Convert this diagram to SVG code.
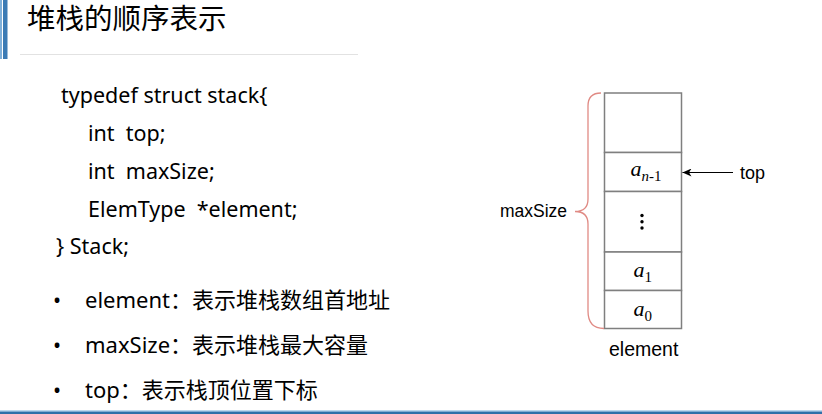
<svg xmlns="http://www.w3.org/2000/svg" width="822" height="414" viewBox="0 0 822 414">
<defs>
<style>
.t{font-family:"Noto Sans","Noto Sans CJK SC",sans-serif;font-size:21.5px;fill:#000}
.cj{font-family:"Noto Sans CJK SC",sans-serif;font-size:22px}
.lab{font-family:"Liberation Sans",Arial,sans-serif;fill:#000}
.cell{fill:#fff;stroke:#7f7f7f;stroke-width:1.5}
.m{font-family:"Liberation Serif","Times New Roman",serif;font-style:italic;font-size:22px;fill:#000}
.s{font-family:"Liberation Serif","Times New Roman",serif;font-style:normal;font-size:15px;fill:#000}
</style>
<marker id="ah" markerWidth="10" markerHeight="8" refX="9" refY="4" orient="auto" markerUnits="userSpaceOnUse">
<path d="M0,0 L9,4 L0,8 L2.5,4 Z" fill="#000"/>
</marker>
</defs>
<rect width="822" height="414" fill="#fff"/>
<g id="frame">
<rect x="0" y="0" width="2" height="59" fill="#7fb0da"/>
<rect x="3" y="0" width="4.5" height="59" fill="#3b7bb5"/>
<line x1="20" y1="54.5" x2="358" y2="54.5" stroke="#e2e2e2" stroke-width="1.2"/>
<rect x="0" y="410.5" width="822" height="1.2" fill="#7fb0da"/>
<rect x="0" y="411.7" width="822" height="2.3" fill="#2f6fa8"/>
</g>
<text id="title" x="27" y="28.5" style="font-family:'Liberation Sans','Noto Sans CJK SC',sans-serif;font-size:28.5px;fill:#000">堆栈的顺序表示</text>
<g id="code">
<text class="t" x="61" y="103">typedef struct stack{</text>
<text class="t" x="88" y="141" xml:space="preserve">int  top;</text>
<text class="t" x="88" y="179" xml:space="preserve">int  maxSize;</text>
<text class="t" x="88" y="217" xml:space="preserve">ElemType  *element;</text>
<text class="t" x="56" y="254">} Stack;</text>
</g>
<g id="bullets">
<text class="t" x="53" y="308">•</text>
<text class="t" x="85" y="308" style="font-size:22px">element<tspan class="cj">：表示堆栈数组首地址</tspan></text>
<text class="t" x="53" y="353">•</text>
<text class="t" x="85" y="353" style="font-size:22px">maxSize<tspan class="cj">：表示堆栈最大容量</tspan></text>
<text class="t" x="53" y="398">•</text>
<text class="t" x="85" y="398" style="font-size:22px">top<tspan class="cj">：表示栈顶位置下标</tspan></text>
</g>
<g id="stack">
<rect class="cell" x="604.5" y="93" width="77" height="59.5"/>
<rect class="cell" x="604.5" y="152.5" width="77" height="39"/>
<rect class="cell" x="604.5" y="191.5" width="77" height="60.5"/>
<rect class="cell" x="604.5" y="252" width="77" height="38.5"/>
<rect class="cell" x="604.5" y="290.5" width="77" height="38"/>
<text class="m" x="630.5" y="176">a<tspan class="s" dy="5"><tspan style="font-style:italic">n</tspan>-1</tspan></text>
<g fill="#000"><circle cx="642" cy="215.5" r="1.7"/><circle cx="642" cy="221.8" r="1.7"/><circle cx="642" cy="228" r="1.7"/></g>
<text class="m" x="633.5" y="277">a<tspan class="s" dy="5">1</tspan></text>
<text class="m" x="633.5" y="316">a<tspan class="s" dy="4.5">0</tspan></text>
</g>
<g id="brace">
<path d="M601,93 Q588,93 588,106 L588,199 Q588,211.5 575,211.5 Q588,211.5 588,224 L588,311 Q588,328.5 604,328.5" fill="none" stroke="#e08a84" stroke-width="1.3"/>
<text class="lab" x="500" y="217" style="font-size:17.5px">maxSize</text>
</g>
<text id="element-label" class="lab" x="609" y="356" style="font-size:19.5px">element</text>
<g id="connectors">
<line x1="733" y1="172.5" x2="682.5" y2="172.5" stroke="#000" stroke-width="1.2" marker-end="url(#ah)"/>
</g>
<text id="top-label" class="lab" x="740" y="179" style="font-size:18px">top</text>
</svg>
